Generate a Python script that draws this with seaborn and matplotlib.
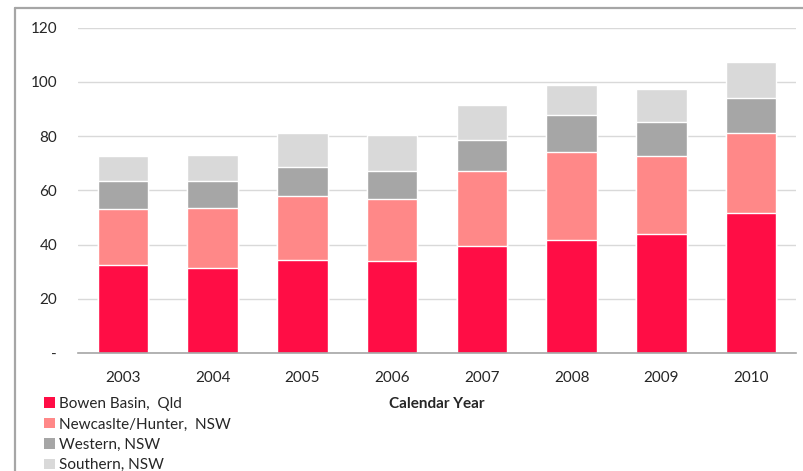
import matplotlib
matplotlib.use("Agg")
import matplotlib.pyplot as plt
import seaborn as sns
import pandas as pd
import numpy as np
from matplotlib.patches import Patch
from matplotlib.lines import Line2D

years = ["2003", "2004", "2005", "2006", "2007", "2008", "2009", "2010"]
bowen = [32.5, 31.5, 34.5, 34.0, 39.4, 41.8, 43.9, 51.6]
newcastle = [20.5, 22.1, 23.4, 23.0, 27.8, 32.3, 28.8, 29.4]
western = [10.3, 9.7, 10.8, 10.2, 11.3, 13.7, 12.5, 13.1]
southern = [9.3, 9.8, 12.3, 13.2, 13.1, 11.2, 12.3, 13.2]
series_names = ["Bowen Basin,  Qld", "Newcaslte/Hunter,  NSW", "Western, NSW", "Southern, NSW"]
colors = ["#FF0D45", "#FF8888", "#A6A6A6", "#D9D9D9"]
ytick_vals = [0, 20, 40, 60, 80, 100, 120]
ytick_labels = ["-", "20", "40", "60", "80", "100", "120"]

sns.set_theme(style="white")
plt.rcParams["font.family"] = ["Lato", "DejaVu Sans"]

W, H = 804, 471
fig = plt.figure(figsize=(W / 100, H / 100), dpi=100)
ax_left, ax_right, ax_top, ax_bot = 78, 796, 27.5, 353.3
ax = fig.add_axes([ax_left / W, 1 - ax_bot / H, (ax_right - ax_left) / W, (ax_bot - ax_top) / H])

df = pd.DataFrame({"year": years, "b": bowen, "n": newcastle, "w": western, "s": southern})
df["c1"] = df["b"]
df["c2"] = df["c1"] + df["n"]
df["c3"] = df["c2"] + df["w"]
df["c4"] = df["c3"] + df["s"]

for col, c in zip(["c4", "c3", "c2", "c1"], colors[::-1]):
    sns.barplot(data=df, x="year", y=col, color=c, saturation=1, width=0.565,
                ax=ax, errorbar=None, zorder=3)

ax.set_ylim(0, 120)
ax.set_xlim(-0.5, 7.5)
ax.set_yticks(ytick_vals)
ax.set_yticklabels(ytick_labels)
ax.grid(axis="y", color="#D9D9D9", linewidth=1.0, zorder=0)
ax.set_axisbelow(True)
for s in ["top", "right", "left"]:
    ax.spines[s].set_visible(False)
ax.spines["bottom"].set_color("#A6A6A6")
ax.spines["bottom"].set_linewidth(1.2)
ax.spines["bottom"].set_zorder(4)
ax.tick_params(axis="both", length=0, labelsize=11, colors="#262626")
ax.tick_params(axis="y", pad=15)
ax.tick_params(axis="x", pad=13)
ax.set_xlabel("")
ax.set_ylabel("")

fig.text(437 / W, 1 - 404 / H, "Calendar Year", ha="center", va="center",
         fontsize=11, fontweight="bold", color="#262626")

handles = [Patch(facecolor=c, edgecolor="none") for c in colors]
fig.legend(handles, series_names, loc="upper left", bbox_to_anchor=(44 / W, 1 - 397 / H),
           frameon=False, fontsize=11, handlelength=0.7, handleheight=0.7,
           handletextpad=0.3, labelspacing=0.42, borderaxespad=0, borderpad=0,
           labelcolor="#262626")

# outer chart frame
fig.add_artist(Line2D([15 / W, 15 / W], [0, 1 - 8 / H], transform=fig.transFigure,
                      color="#A6A6A6", linewidth=1.6))
fig.add_artist(Line2D([15 / W, 1], [1 - 8 / H, 1 - 8 / H], transform=fig.transFigure,
                      color="#A6A6A6", linewidth=1.6))

fig.savefig("out.png", dpi=100)
